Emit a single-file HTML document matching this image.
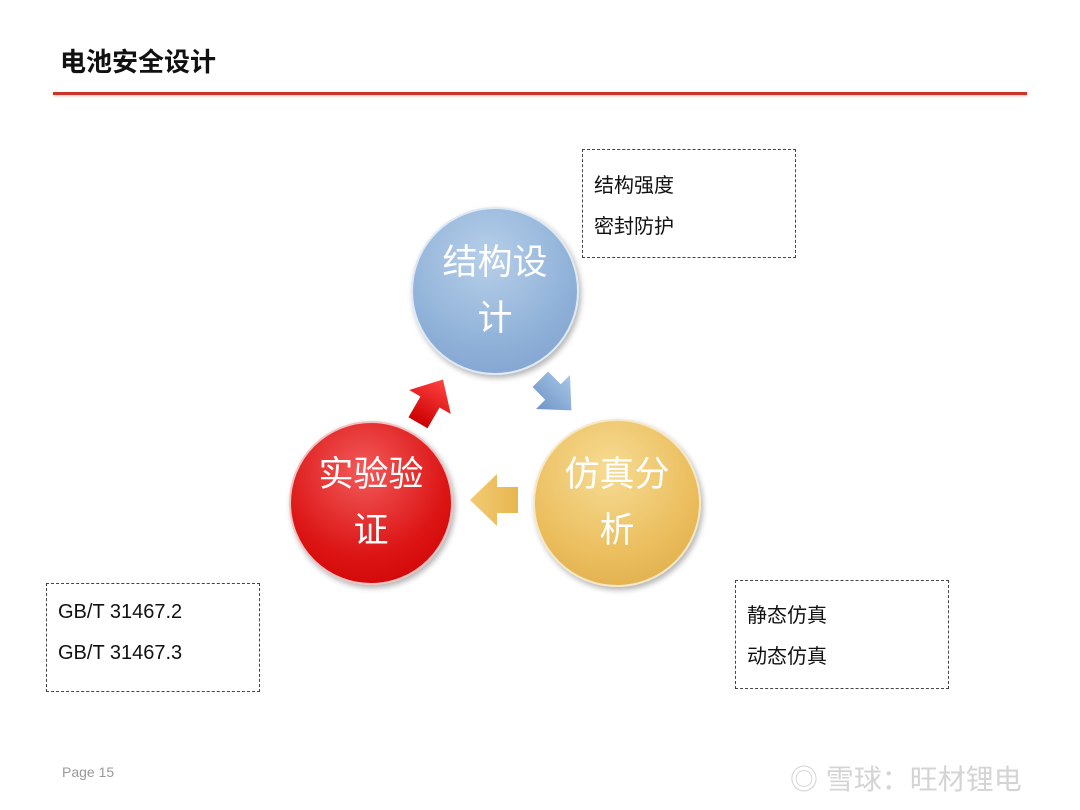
<!DOCTYPE html>
<html><head><meta charset="utf-8"><style>
body{margin:0;width:1080px;height:810px;background:#fff;position:relative;overflow:hidden;font-family:"Liberation Sans","Noto Sans CJK SC",sans-serif}
.t{position:absolute;left:60px;top:42px;font-size:26px;font-weight:bold;color:#111}
.line{position:absolute;left:53px;top:92px;width:974px;height:3px;background:#c8362a;box-shadow:0 1px 2px rgba(200,80,60,.4)}
.box{position:absolute;border:1px dashed #444;font-size:20px;color:#111;line-height:41px;padding-left:11px;box-sizing:border-box}
.c{position:absolute;border-radius:50%;color:#fff;font-size:35px;text-align:center;line-height:56px;display:flex;align-items:center;justify-content:center;box-shadow:2px 3px 6px rgba(0,0,0,.3)}
.pg{position:absolute;left:62px;top:764px;font-size:14px;color:#999}
.wm{position:absolute;left:790px;top:758px;font-size:28px;color:#d4d4d4}
</style></head><body>
<div class="t">电池安全设计</div>
<div class="line"></div>
<div class="box" style="left:582px;top:149px;width:214px;height:109px;padding-top:16px">结构强度<br>密封防护</div>
<div class="box" style="left:46px;top:583px;width:214px;height:109px;padding-top:8px">GB/T 31467.2<br>GB/T 31467.3</div>
<div class="box" style="left:735px;top:580px;width:214px;height:109px;padding-top:15px">静态仿真<br>动态仿真</div>
<div class="c" style="left:411px;top:207px;width:164px;height:164px;background:radial-gradient(circle at 45% 30%,#b7cfe9,#8fb1d8 60%,#7a9ccb);border:2px solid #dfe9f4">结构设<br>计</div>
<div class="c" style="left:289px;top:421px;width:160px;height:160px;background:radial-gradient(circle at 45% 30%,#f25a5a,#dc1414 60%,#c00);border:2px solid #f4c0c0">实验验<br>证</div>
<div class="c" style="left:533px;top:419px;width:164px;height:164px;background:radial-gradient(circle at 45% 30%,#f6dc94,#ebbd5c 60%,#dba848);border:2px solid #f6e8c4">仿真分<br>析</div>
<svg width="1080" height="810" style="position:absolute;left:0;top:0">
<defs>
<linearGradient id="r" x1="0" y1="0" x2="0" y2="1"><stop offset="0" stop-color="#f44"/><stop offset="1" stop-color="#c00"/></linearGradient>
<linearGradient id="b" x1="0" y1="0" x2="0" y2="1"><stop offset="0" stop-color="#a8c6e8"/><stop offset="1" stop-color="#6f95c6"/></linearGradient>
<linearGradient id="y" x1="0" y1="0" x2="1" y2="0"><stop offset="0" stop-color="#f1cb72"/><stop offset="1" stop-color="#e8b650"/></linearGradient>
</defs>
<g transform="translate(430,402) rotate(30)"><polygon points="-11,24 11,24 11,0 24,0 0,-26 -24,0 -11,0" fill="url(#r)"/></g>
<g transform="translate(553,392) rotate(45)"><polygon points="-18,-11 0,-11 0,-24 26,0 0,24 0,11 -18,11" fill="url(#b)"/></g>
<polygon points="518,487 497,487 497,474 470,500 497,526 497,513 518,513" fill="url(#y)"/>
</svg>
<div class="pg">Page 15</div>
<div class="wm">◎ 雪球：旺材锂电</div>
</body></html>
